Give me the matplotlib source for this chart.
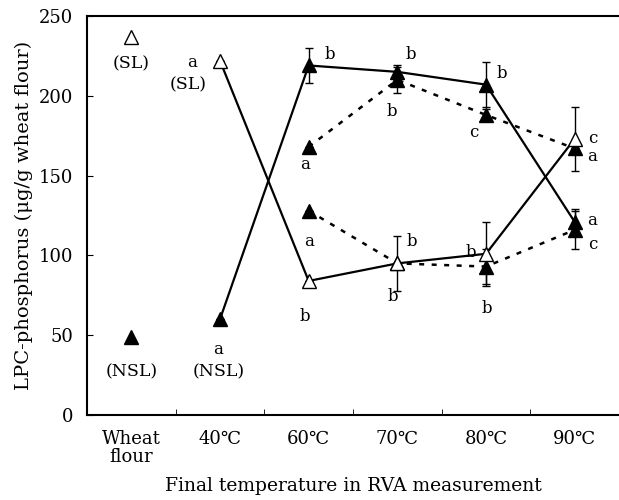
import numpy as np
import matplotlib.pyplot as plt

plt.rcParams['font.family'] = ['DejaVu Serif', 'Liberation Serif']

# ____________________data____________________
categories = ["Wheat\nflour", "40\u2103", "60\u2103", "70\u2103", "80\u2103", "90\u2103"]
temps_x = [1, 2, 3, 4, 5]          # 40..90 C positions
flour_sl = 237                     # wheat flour SL
flour_nsl = 49                     # wheat flour NSL

sl = [222, 84, 95, 101, 173]       # open, solid line
sl_err = [0, 0, 17, 20, 20]
nsl = [60, 219, 215, 207, 121]     # filled, solid line
nsl_err = [0, 11, 4, 14, 8]

dash_x = [2, 3, 4, 5]
dash_up = [168, 210, 188, 167]     # filled, dotted upper
dash_up_err = [0, 8, 4, 0]
dash_lo = [128, 95, 93, 116]       # filled, dotted lower
dash_lo_err = [0, 0, 11, 12]

# letters (x, y, text)
letters = [
    (0.69, 221, "a"), (0.98, 41, "a"),
    (2.24, 226, "b"), (1.96, 157, "a"), (2.0, 109, "a"), (1.96, 62, "b"),
    (3.15, 226, "b"), (2.94, 190, "b"), (3.16, 109, "b"), (2.95, 74, "b"),
    (4.18, 214, "b"), (3.86, 177, "c"), (3.83, 102, "b"), (4.01, 67, "b"),
    (5.2, 173, "c"), (5.2, 162, "a"), (5.2, 122, "a"), (5.2, 107, "c"),
]

fig = plt.figure(figsize=(6.19, 5.0), dpi=100)
ax = fig.add_axes([0.1405, 0.17, 0.8595, 0.798])

# wheat flour points
ax.plot(0, flour_sl, marker='^', ms=10, mfc='white', mec='black', ls='none')
ax.plot(0, flour_nsl, marker='^', ms=10, color='black', ls='none')

# dotted series
ax.errorbar(dash_x, dash_up, yerr=dash_up_err, color='black', ls=(0, (2, 3)), lw=1.8,
            marker='^', ms=10, capsize=3, elinewidth=1, zorder=2)
ax.errorbar(dash_x, dash_lo, yerr=dash_lo_err, color='black', ls=(0, (2, 3)), lw=1.8,
            marker='^', ms=10, capsize=3, elinewidth=1, zorder=2)

# solid series
ax.errorbar(temps_x, nsl, yerr=nsl_err, color='black', lw=1.6,
            marker='^', ms=10, capsize=3, elinewidth=1, zorder=3)
ax.errorbar(temps_x, sl, yerr=sl_err, color='black', lw=1.6,
            marker='^', ms=10, mfc='white', mec='black', capsize=3, elinewidth=1, zorder=4)

for x, y, t in letters:
    ax.text(x, y, t, fontsize=12, ha='center', va='center')

ax.text(0, 220, "(SL)", fontsize=12.5, ha='center', va='center')
ax.text(0.64, 207, "(SL)", fontsize=12.5, ha='center', va='center')
ax.text(0, 27, "(NSL)", fontsize=12.5, ha='center', va='center')
ax.text(0.98, 27, "(NSL)", fontsize=12.5, ha='center', va='center')

ax.set_xlim(-0.5, 5.5)
ax.set_ylim(0, 250)
ax.set_yticks(np.arange(0, 251, 50))
ax.set_xticks(range(6))
ax.set_xticklabels(categories, fontsize=13, linespacing=0.95)
ax.set_xticks(np.arange(0.5, 5, 1), minor=True)
ax.tick_params(axis='x', which='major', length=0, pad=11)
ax.tick_params(axis='x', which='minor', direction='in', length=4)
ax.tick_params(axis='y', direction='in', length=4, labelsize=13, pad=10)
ax.spines['right'].set_visible(False)
for s in ['left', 'top', 'bottom']:
    ax.spines[s].set_linewidth(1.5)

ax.set_ylabel("LPC-phosphorus (\u03bcg/g wheat flour)", fontsize=14, labelpad=4)
ax.set_xlabel("Final temperature in RVA measurement", fontsize=13.5, labelpad=8)

fig.savefig("out.png", dpi=100)
